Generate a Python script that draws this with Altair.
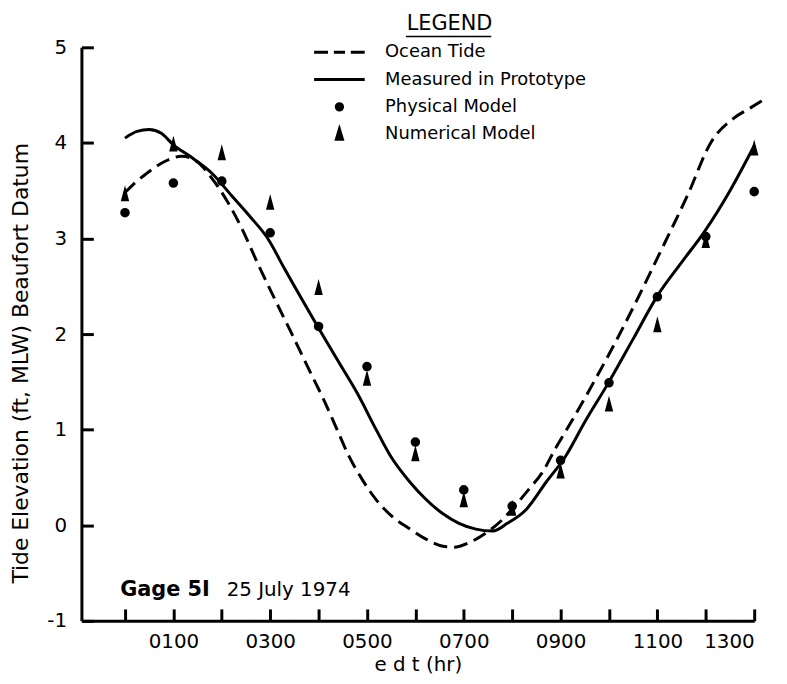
import altair as alt
import pandas as pd

# ---- data ----
ocean_hr = [0.0, 0.2, 0.42, 0.8, 1.17, 1.5, 1.78, 2.1, 2.4, 2.75, 3.1, 3.43, 3.8, 4.11, 4.4,
            4.63, 4.9, 5.2, 5.5, 5.89, 6.2, 6.57, 6.8, 7.12, 7.46, 7.8, 8.07, 8.35, 8.62,
            8.89, 9.23, 9.71, 10.2, 10.6, 11.1, 11.63, 12.1, 12.58, 12.9, 13.16]
ocean_ft = [3.48, 3.58, 3.67, 3.80, 3.86, 3.80, 3.64, 3.40, 3.12, 2.73, 2.36, 2.02, 1.63, 1.31, 0.98,
            0.72, 0.48, 0.26, 0.10, -0.04, -0.14, -0.22, -0.23, -0.18, -0.08, 0.06, 0.21, 0.38, 0.55,
            0.80, 1.09, 1.52, 1.98, 2.38, 2.90, 3.46, 4.00, 4.26, 4.36, 4.44]

proto_hr = [0.0, 0.25, 0.5, 0.75, 1.0, 1.4, 1.8, 2.2, 2.6, 2.95, 3.3, 3.98, 4.4, 4.8, 5.2, 5.48,
            5.89, 6.2, 6.57, 6.9, 7.25, 7.6, 7.9, 8.28, 8.7, 9.1, 9.5, 10.0, 10.5, 11.0, 11.5,
            11.97, 12.5, 13.0]
proto_ft = [4.05, 4.12, 4.14, 4.10, 3.98, 3.84, 3.68, 3.45, 3.22, 3.0, 2.68, 2.08, 1.72, 1.38, 0.99, 0.73,
            0.45, 0.28, 0.12, 0.02, -0.04, -0.06, 0.02, 0.16, 0.45, 0.72, 1.08, 1.50, 1.95, 2.40, 2.75,
            3.07, 3.50, 3.97]

obs_hr = [0, 1, 2, 3, 4, 5, 6, 7, 8, 9, 10, 11, 12, 13]
physical_ft = [3.27, 3.58, 3.60, 3.06, 2.08, 1.66, 0.87, 0.37, 0.20, 0.68, 1.49, 2.39, 3.02, 3.49]
numerical_ft = [3.45, 3.97, 3.88, 3.36, 2.47, 1.52, 0.73, 0.25, 0.16, 0.55, 1.25, 2.08, 2.96, 3.93]

series_names = ["Ocean Tide", "Measured in Prototype", "Physical Model", "Numerical Model"]
# legend symbols (stroked only)
legend_shapes = [
    "M-1,0H-0.45M-0.22,0H0.22M0.45,0H1",
    "M-1,0H1",
    "M0.05,0A0.05,0.05,0,1,1,-0.05,0A0.05,0.05,0,1,1,0.05,0Z"
    "M0.125,0A0.125,0.125,0,1,1,-0.125,0A0.125,0.125,0,1,1,0.125,0Z",
    "M0,-0.2L0.12,0.2L-0.12,0.2ZM0,-0.2L0,0.2",
]
# plot symbols (filled)
circle_path = "M0.13,0A0.13,0.13,0,1,1,-0.13,0A0.13,0.13,0,1,1,0.13,0Z"
triangle_path = "M0,-0.17L0.09,0.17L-0.09,0.17Z"

x_tick_values = list(range(0, 14))
x_tick_labels = ["", "0100", "", "0300", "", "0500", "", "0700", "", "0900", "", "1100", "", "1300"]
y_tick_values = [-1, 0, 1, 2, 3, 4, 5]
y_tick_labels = ["-1", "0", "1", "2", "3", "4", "5"]
x_min, x_max = -0.9, 13
y_min, y_max = -1, 5

note_bold = "Gage 5I"
note_rest = "25 July 1974"
note_bold_pos = (-0.1, -0.68)
note_rest_pos = (2.1, -0.68)

FONT = "DejaVu Sans"
PLOT_W, PLOT_H = 678, 578
TICK_LEN = 12


def label_expr(values, labels):
    expr = "''"
    for v, l in zip(reversed(values), reversed(labels)):
        expr = f"datum.value == {v} ? '{l}' : ({expr})"
    return expr


ocean_df = pd.DataFrame({"hr": ocean_hr, "ft": ocean_ft})
proto_df = pd.DataFrame({"hr": proto_hr, "ft": proto_ft})
phys_df = pd.DataFrame({"hr": obs_hr, "ft": physical_ft, "series": "Physical Model"})
num_df = pd.DataFrame({"hr": obs_hr, "ft": numerical_ft, "series": "Numerical Model"})
obs_df = pd.concat([phys_df, num_df])

xscale = alt.Scale(domain=[x_min, x_max], nice=False, zero=False)
yscale = alt.Scale(domain=[y_min, y_max], nice=False, zero=False)

# main axes (labels, titles, domain lines; no ticks)
x_main = alt.X("hr:Q", scale=xscale, axis=alt.Axis(
    title="e d t (hr)", values=x_tick_values, labelExpr=label_expr(x_tick_values, x_tick_labels),
    grid=False, ticks=False, labelPadding=11, titlePadding=3,
    labelFontSize=20, titleFontSize=20, labelFont=FONT, titleFont=FONT,
    titleFontWeight="normal", labelColor="black", titleColor="black",
    domainColor="black", domainWidth=3))
y_main = alt.Y("ft:Q", scale=yscale, axis=alt.Axis(
    title="Tide Elevation (ft, MLW) Beaufort Datum", values=y_tick_values,
    labelExpr=label_expr(y_tick_values, y_tick_labels),
    grid=False, ticks=False, labelPadding=15, titlePadding=14, titleY=318,
    labelFontSize=20, titleFontSize=22, labelFont=FONT, titleFont=FONT,
    titleFontWeight="normal", labelColor="black", titleColor="black",
    domainColor="black", domainWidth=3))

# tick-only axes, placed on the opposite side and shifted onto the plot edges so ticks point inward
x_ticks_axis = alt.X("hr:Q", scale=xscale, axis=alt.Axis(
    orient="top", offset=-PLOT_H, values=x_tick_values, labels=False, domain=False, grid=False,
    ticks=True, tickSize=TICK_LEN, tickWidth=3, tickColor="black", title=None))
y_ticks_axis = alt.Y("ft:Q", scale=yscale, axis=alt.Axis(
    orient="right", offset=-PLOT_W, values=y_tick_values, labels=False, domain=False, grid=False,
    ticks=True, tickSize=TICK_LEN, tickWidth=3, tickColor="black", title=None))

x_plain = alt.X("hr:Q", scale=xscale, axis=None)
y_plain = alt.Y("ft:Q", scale=yscale, axis=None)

ocean = alt.Chart(ocean_df).mark_line(color="black", strokeWidth=3, strokeDash=[14, 7],
                                      interpolate="monotone").encode(x=x_main, y=y_main)
tick_carrier = alt.Chart(ocean_df).mark_line(opacity=0).encode(x=x_ticks_axis, y=y_ticks_axis)
proto = alt.Chart(proto_df).mark_line(color="black", strokeWidth=3,
                                      interpolate="monotone").encode(x=x_plain, y=y_plain)

phys = alt.Chart(phys_df).mark_point(shape=circle_path, filled=True, fill="black", stroke="black",
                                     strokeWidth=3, opacity=1, size=2601).encode(x=x_plain, y=y_plain)
num = alt.Chart(num_df).mark_point(shape=triangle_path, filled=True, fill="black", stroke="black",
                                   strokeWidth=3, opacity=1, size=2601).encode(x=x_plain, y=y_plain)

legend_layer = alt.Chart(obs_df).mark_point(filled=False, color="black", strokeWidth=3,
                                            opacity=0, size=2601).encode(
    x=x_plain, y=y_plain,
    shape=alt.Shape("series:N", scale=alt.Scale(domain=series_names, range=legend_shapes),
                    legend=alt.Legend(
                        title="LEGEND", orient="none", legendX=233, legendY=-34,
                        titleFontSize=21, titleFont=FONT, titleFontWeight="normal",
                        titleColor="black", titleAnchor="middle", titlePadding=8,
                        labelFontSize=18, labelFont=FONT, labelColor="black",
                        labelOffset=19, labelLimit=400, symbolSize=2601, symbolStrokeWidth=3,
                        symbolStrokeColor="black", symbolOpacity=1,
                        clipHeight=20, rowPadding=7.5, padding=0))
)

note_df = pd.DataFrame({"hr": [note_bold_pos[0]], "ft": [note_bold_pos[1]], "t": [note_bold]})
note2_df = pd.DataFrame({"hr": [note_rest_pos[0]], "ft": [note_rest_pos[1]], "t": [note_rest]})
note1 = alt.Chart(note_df).mark_text(font=FONT, fontSize=21, fontWeight="bold", align="left",
                                     baseline="middle", color="black").encode(x=x_plain, y=y_plain, text="t:N")
note2 = alt.Chart(note2_df).mark_text(font=FONT, fontSize=20, align="left",
                                      baseline="middle", color="black").encode(x=x_plain, y=y_plain, text="t:N")

underline = alt.Chart(pd.DataFrame({"a": [0]})).mark_rule(color="black", strokeWidth=1.5).encode(
    x=alt.value(327), x2=alt.value(413), y=alt.value(-11))

chart = alt.layer(ocean, tick_carrier, proto, legend_layer, phys, num, note1, note2, underline).resolve_scale(
    x="independent", y="independent"
).properties(
    width=PLOT_W, height=PLOT_H,
    padding={"left": 74, "top": 37, "right": 25, "bottom": 58},
    autosize=alt.AutoSizeParams(type="none"),
    background="white",
).configure_view(stroke=None)

chart.save("out.html", embed_options={"renderer": "svg", "actions": False})
